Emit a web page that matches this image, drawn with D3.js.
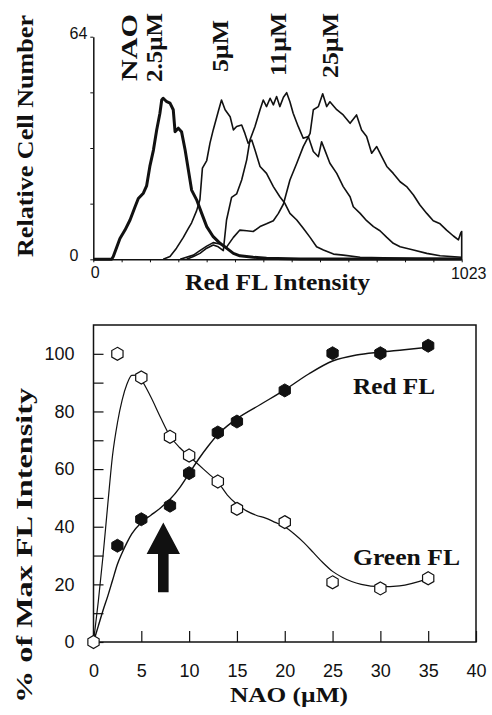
<!DOCTYPE html>
<html>
<head>
<meta charset="utf-8">
<script src="https://cdn.jsdelivr.net/npm/d3@7"></script>
<style>
  body { margin: 0; background: #fff; }
  .ttl { font-family: "Liberation Serif", "Times New Roman", serif; font-weight: bold; fill: #111; }
  .tick text, .num { font-family: "Liberation Sans", Arial, sans-serif; fill: #111; }
</style>
</head>
<body>
<svg width="492" height="715"></svg>
<script>
// ---- top panel: red FL histograms (channel, count) ----
var chan_2_5  = [0, 51, 55.5, 74, 88, 102, 116, 125, 139, 148, 157, 167, 176, 185, 190, 194, 204, 213, 222, 227, 236, 245, 255, 264, 273, 287, 301, 315, 333, 352, 370, 389, 407, 444, 481, 574, 1023];
var count_2_5 = [0, 0, 0.8, 6.0, 8.4, 11.3, 15.1, 17.5, 19.0, 21.1, 26.7, 31.4, 37.2, 42.0, 45.8, 46.3, 45.3, 44.9, 43.0, 36.7, 37.7, 36.7, 31.4, 25.7, 19.9, 17.1, 13.2, 9.4, 6.5, 4.6, 3.2, 1.7, 1.0, 0.6, 0.3, 0.1, 0.1];

var chan_5  = [194, 213, 231, 250, 264, 273, 287, 296, 303, 315, 324, 333, 347, 356, 366, 380, 389, 398, 412, 421, 430, 440, 449, 463, 481, 500, 518, 532, 546, 565, 583, 602, 620, 639, 667, 694, 741, 805, 898, 1023];
var count_5 = [0, 0.8, 3.2, 6.3, 8.9, 10.5, 14.0, 17.1, 26.2, 28.4, 33.4, 37.2, 42.5, 45.8, 43.0, 41.0, 37.2, 38.2, 38.6, 36.2, 33.4, 34.3, 31.4, 26.7, 24.7, 20.9, 18.0, 16.1, 13.2, 11.3, 8.9, 6.3, 3.6, 2.7, 1.5, 1.2, 0.6, 0.4, 0.3, 0.2];

var chan_11  = [259, 278, 296, 315, 333, 347, 361, 370, 384, 398, 412, 426, 435, 449, 463, 472, 481, 491, 500, 509, 518, 528, 537, 546, 555, 569, 583, 597, 611, 625, 634, 643, 657, 676, 694, 713, 722, 741, 759, 778, 796, 815, 833, 852, 889, 926, 963, 1023];
var count_11 = [0, 0.8, 1.7, 3.2, 4.1, 3.6, 2.5, 11.3, 17.8, 18.8, 22.8, 28.6, 34.3, 38.2, 43.0, 45.8, 43.9, 46.3, 44.4, 46.8, 43.9, 46.6, 47.9, 45.3, 42.0, 38.2, 34.8, 35.3, 31.0, 29.5, 33.8, 31.4, 27.6, 24.7, 20.9, 18.0, 15.1, 13.2, 11.1, 9.4, 8.2, 6.3, 4.6, 3.6, 2.7, 1.7, 1.0, 0.6];

var chan_25  = [241, 278, 296, 315, 333, 352, 370, 389, 407, 426, 444, 463, 481, 500, 514, 528, 546, 565, 583, 602, 611, 625, 637, 648, 657, 676, 694, 713, 731, 745, 759, 773, 787, 801, 815, 833, 852, 870, 889, 907, 926, 944, 963, 981, 1000, 1014, 1020, 1023, 1023];
var count_25 = [0, 1.2, 2.5, 3.8, 4.8, 4.4, 3.5, 6.3, 8.4, 8.2, 8.0, 9.4, 10.2, 11.1, 13.2, 15.9, 22.8, 27.6, 32.4, 36.2, 43.0, 43.9, 47.6, 43.9, 45.3, 43.0, 41.5, 39.1, 41.5, 37.2, 35.3, 30.5, 32.4, 29.5, 26.7, 24.7, 22.3, 20.9, 18.5, 15.6, 13.2, 11.1, 10.2, 8.4, 6.7, 5.6, 7.5, 8.0, 0];

var histLabels = ["2.5\u00b5M", "5\u00b5M", "11\u00b5M", "25\u00b5M"];

// ---- bottom panel: % of max FL intensity vs NAO (uM) ----
var redConc  = [2.5, 5, 8, 10, 13, 15, 20, 25, 30, 35];
var redFL    = [33.4, 42.6, 47.3, 58.6, 72.7, 76.5, 87.3, 100.2, 100.2, 102.8];
var greenConc = [0, 2.5, 5, 8, 10, 13, 15, 20, 25, 30, 35];
var greenFL   = [0, 100, 91.8, 71.2, 64.7, 55.7, 46.2, 41.6, 20.7, 18.6, 22.1];

// fitted curves
var redFitX  = [0, 0.5, 1, 1.5, 2, 2.5, 3, 3.5, 4, 5, 6, 7, 8, 9, 10, 11, 12, 13, 14, 15, 17.5, 20, 22.5, 25, 27.5, 30, 32.5, 35];
var redFitY  = [0, 5.5, 11, 16, 21.5, 27, 31, 34.5, 37.5, 41.5, 44, 46.5, 49.5, 53.5, 58.5, 63.5, 68, 72, 75, 77.5, 82.5, 87.5, 93, 97.5, 99.6, 100.6, 101.4, 102.3];
var greenFitX = [0, 0.5, 1, 1.5, 2, 2.5, 3, 3.5, 4, 4.5, 5, 6, 7, 8, 9, 10, 11, 12, 13, 14, 15, 16, 17, 18, 19, 20, 21, 22, 23, 24, 25, 26, 27, 28, 30, 32, 35];
var greenFitY = [0, 14, 30, 48, 65, 76, 84, 89.5, 92.5, 92.6, 91, 85, 78, 71.5, 67.5, 64.5, 61.5, 58.5, 55.5, 51, 47.8, 45.5, 44, 43, 41.5, 40, 37.5, 34.5, 31, 27.5, 24.5, 22.5, 21, 20, 19.2, 19.5, 22];

// arrow (x in uM, tip / head base / tail in %)
var arrowX = 7.3, arrowTip = 41.5, arrowBase = 30.5, arrowTail = 17.3;

var svg = d3.select("svg");

// ================= top panel =================
var hx = d3.scaleLinear().domain([0, 1023]).range([93.3, 461.7]);
var hy = d3.scaleLinear().domain([0, 64]).range([259.3, 36.7]);

var gTop = svg.append("g");

var hLine = d3.line().x(d => hx(d[0])).y(d => hy(d[1]));
var series = [
  { ch: chan_5,  n: count_5,  w: 1.6 },
  { ch: chan_11, n: count_11, w: 1.6 },
  { ch: chan_25, n: count_25, w: 1.6 },
  { ch: chan_2_5, n: count_2_5, w: 3 }
];
series.forEach(function(s) {
  gTop.append("path")
    .attr("fill", "none").attr("stroke", "#111")
    .attr("stroke-width", s.w).attr("stroke-linejoin", "round")
    .attr("d", hLine(d3.zip(s.ch, s.n)));
});

var hTicks = d3.range(0, 14).map(i => i * 1023 / 13);
var hxAxis = gTop.append("g").attr("transform", "translate(0," + hy(0) + ")")
  .call(d3.axisBottom(hx).tickValues(hTicks).tickSize(3).tickSizeOuter(0).tickFormat(""));
var hyAxis = gTop.append("g").attr("transform", "translate(" + hx(0) + ",0)")
  .call(d3.axisLeft(hy).tickValues([0, 16, 32, 48, 64]).tickSize(3).tickSizeOuter(0).tickPadding(3)
    .tickFormat(d => (d === 0 || d === 64) ? d : ""));
[hxAxis, hyAxis].forEach(function(a) {
  a.select(".domain").attr("stroke", "#111").attr("stroke-width", 1.5);
  a.selectAll(".tick line").attr("stroke", "#111").attr("stroke-width", 1);
});
hyAxis.selectAll(".tick text").attr("font-size", 16).attr("y", -3.5)
  .attr("x", d => d === 0 ? -15 : -6);

gTop.append("text").attr("class", "num").attr("font-size", 16).attr("text-anchor", "middle")
  .attr("x", hx(0) + 2).attr("y", 278).text("0");
gTop.append("text").attr("class", "num").attr("font-size", 16).attr("text-anchor", "middle")
  .attr("x", hx(1023) + 7).attr("y", 279).text("1023");

gTop.append("text").attr("class", "ttl").attr("font-size", 24)
  .attr("text-anchor", "middle").attr("x", 277.5).attr("y", 290)
  .attr("textLength", 185).attr("lengthAdjust", "spacingAndGlyphs")
  .text("Red FL Intensity");
gTop.append("text").attr("class", "ttl").attr("font-size", 24)
  .attr("text-anchor", "middle")
  .attr("transform", "translate(33,136) rotate(-90)")
  .attr("textLength", 242).attr("lengthAdjust", "spacingAndGlyphs")
  .text("Relative Cell Number");

// rotated concentration labels
var rotLabels = [
  { t: "NAO",         bx: 137, by: 81, len: 67 },
  { t: histLabels[0], bx: 162, by: 82, len: 69 },
  { t: histLabels[1], bx: 228, by: 72, len: 52 },
  { t: histLabels[2], bx: 286, by: 76, len: 63 },
  { t: histLabels[3], bx: 338, by: 78, len: 65 }
];
gTop.selectAll("text.rot").data(rotLabels).enter().append("text")
  .attr("class", "ttl rot").attr("font-size", 24)
  .attr("transform", d => "translate(" + d.bx + "," + d.by + ") rotate(-90)")
  .attr("textLength", d => d.len).attr("lengthAdjust", "spacingAndGlyphs")
  .text(d => d.t);

// ================= bottom panel =================
var bx = d3.scaleLinear().domain([0, 40]).range([93.5, 476]);
var by = d3.scaleLinear().domain([0, 110]).range([642, 325]);

var gBot = svg.append("g");

gBot.append("rect")
  .attr("x", bx(0)).attr("y", by(110))
  .attr("width", bx(40) - bx(0)).attr("height", by(0) - by(110))
  .attr("fill", "none").attr("stroke", "#111").attr("stroke-width", 1.5);

var xAx = gBot.append("g").attr("transform", "translate(0," + by(0) + ")")
  .call(d3.axisBottom(bx).tickValues(d3.range(0, 41, 5)).tickSize(-11).tickSizeOuter(0).tickPadding(22));
var yAx = gBot.append("g").attr("transform", "translate(" + bx(0) + ",0)")
  .call(d3.axisLeft(by).tickValues(d3.range(0, 101, 10)).tickSize(-10).tickSizeOuter(0).tickPadding(19)
    .tickFormat(d => d % 20 === 0 ? d : ""));
[xAx, yAx].forEach(function(a) {
  a.select(".domain").remove();
  a.selectAll(".tick line").attr("stroke", "#111").attr("stroke-width", 1.2);
  a.selectAll(".tick text").attr("font-size", 18);
});

var fitLine = d3.line().x(d => bx(d[0])).y(d => by(d[1])).curve(d3.curveMonotoneX);
gBot.append("path").attr("fill", "none").attr("stroke", "#111").attr("stroke-width", 1.4)
  .attr("d", fitLine(d3.zip(redFitX, redFitY)));
gBot.append("path").attr("fill", "none").attr("stroke", "#111").attr("stroke-width", 1.2)
  .attr("d", fitLine(d3.zip(greenFitX, greenFitY)));

// hexagon markers (pointy top)
var hexR = 6.5;
var hexPath = d3.line()(d3.range(6).map(function(i) {
  var a = (-90 + 60 * i) * Math.PI / 180;
  return [hexR * Math.cos(a), hexR * Math.sin(a)];
})) + "Z";

gBot.selectAll("path.green").data(d3.zip(greenConc, greenFL)).enter().append("path")
  .attr("class", "green").attr("d", hexPath)
  .attr("transform", d => "translate(" + bx(d[0]) + "," + by(d[1]) + ")")
  .attr("fill", "#fff").attr("stroke", "#111").attr("stroke-width", 1.2);
gBot.selectAll("path.red").data(d3.zip(redConc, redFL)).enter().append("path")
  .attr("class", "red").attr("d", hexPath)
  .attr("transform", d => "translate(" + bx(d[0]) + "," + by(d[1]) + ")")
  .attr("fill", "#111").attr("stroke", "#111").attr("stroke-width", 1);

// arrow
var ax = bx(arrowX);
gBot.append("path").attr("fill", "#111")
  .attr("d", d3.line()([
    [ax, by(arrowTip)], [ax + 16.7, by(arrowBase)], [ax + 5.3, by(arrowBase)],
    [ax + 5.3, by(arrowTail)], [ax - 5.3, by(arrowTail)], [ax - 5.3, by(arrowBase)],
    [ax - 16.7, by(arrowBase)]
  ]) + "Z");

// labels
gBot.append("text").attr("class", "ttl").attr("font-size", 24)
  .attr("x", 353).attr("y", 394).attr("textLength", 82).attr("lengthAdjust", "spacingAndGlyphs")
  .text("Red FL");
gBot.append("text").attr("class", "ttl").attr("font-size", 24)
  .attr("x", 353).attr("y", 565).attr("textLength", 107).attr("lengthAdjust", "spacingAndGlyphs")
  .text("Green FL");
gBot.append("text").attr("class", "ttl").attr("font-size", 21)
  .attr("text-anchor", "middle").attr("x", 289).attr("y", 702)
  .attr("textLength", 118).attr("lengthAdjust", "spacingAndGlyphs")
  .text("NAO (\u00b5M)");
gBot.append("text").attr("class", "ttl").attr("font-size", 24)
  .attr("text-anchor", "middle")
  .attr("transform", "translate(32,545.5) rotate(-90)")
  .attr("textLength", 315).attr("lengthAdjust", "spacingAndGlyphs")
  .text("% of Max FL Intensity");
</script>
</body>
</html>
